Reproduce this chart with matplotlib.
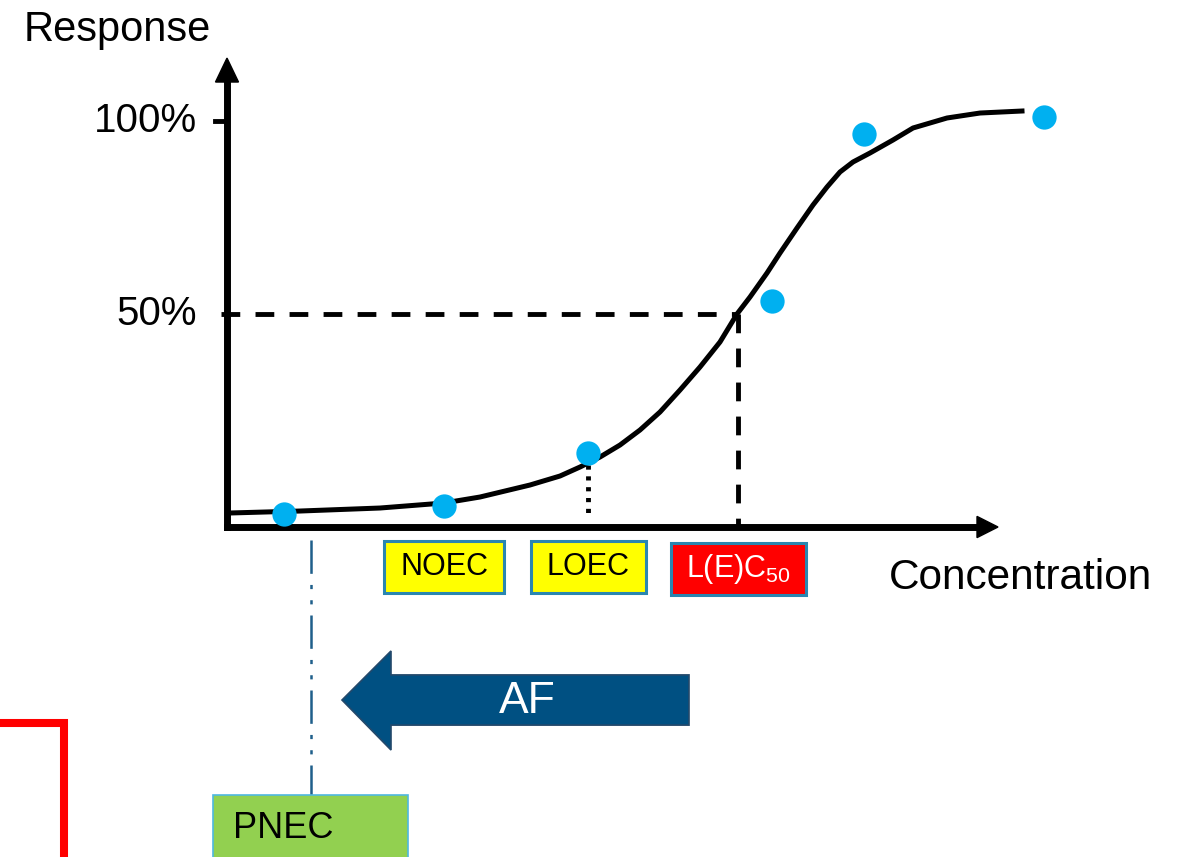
import numpy as np
import matplotlib.pyplot as plt
from matplotlib.patches import Rectangle, Polygon

plt.rcParams['font.family'] = ['Liberation Sans', 'DejaVu Sans']
plt.rcParams['mathtext.fontset'] = 'custom'
plt.rcParams['mathtext.rm'] = 'Liberation Sans'
plt.rcParams['mathtext.it'] = 'Liberation Sans:italic'
plt.rcParams['lines.scale_dashes'] = False

# measured test results (concentration in arbitrary units, response in %)
conc = [0.57, 2.17, 3.61, 5.45, 6.37, 8.17]
response = [-1.8, 0.3, 14.0, 53.4, 96.6, 101.0]

# fitted dose-response curve
curve_x = [0.03, 0.73, 1.53, 2.17, 2.53, 3.03, 3.33, 3.53, 3.73, 3.93, 4.13, 4.33,
           4.53, 4.73, 4.93, 5.10, 5.23, 5.40, 5.53, 5.70, 5.86, 6.00, 6.13, 6.26,
           6.43, 6.66, 6.86, 7.20, 7.53, 7.95]
curve_y = [-1.55, -1.04, -0.26, 1.04, 2.59, 5.70, 8.03, 10.36, 12.95, 16.06, 19.95, 24.61,
           30.31, 36.27, 42.75, 50.0, 54.40, 60.62, 65.80, 72.28, 78.24, 82.90, 86.79, 89.38,
           91.71, 95.08, 98.19, 100.78, 102.07, 102.59]

ec50 = 5.11
loec_resp = 10.9
pnec = 0.84

fig = plt.figure(figsize=(11.78, 8.57), dpi=100, facecolor='white')
ax = fig.add_axes([0, 0, 1, 1])
ax.set_xlim(-2.27, 9.51)
ax.set_ylim(-90.67, 131.35)
ax.axis('off')

y0 = -5.18  # position of concentration axis

# axes with arrow heads
ax.plot([0, 0], [y0, 110.5], color='black', lw=5, solid_capstyle='projecting')
ax.fill([-0.115, 0.115, 0], [110.1, 110.1, 116.3], color='black')
ax.plot([0, 7.52], [y0, y0], color='black', lw=5, solid_capstyle='projecting')
ax.fill([7.50, 7.50, 7.71], [y0 + 2.75, y0 - 2.75, y0], color='black')

# 100% tick
ax.plot([-0.12, 0], [100, 100], color='black', lw=3.5)
ax.text(-0.30, 100, '100%', ha='right', va='center', fontsize=29)
ax.text(-0.30, 50, '50%', ha='right', va='center', fontsize=29)
ax.text(-1.10, 123.6, 'Response', ha='center', va='center', fontsize=30)
ax.text(7.93, -18.4, 'Concentration', ha='center', va='center', fontsize=30.5)

# 50% guide lines
ax.plot([-0.06, ec50], [50, 50], color='black', lw=3.5, dashes=(13.5, 11), dash_capstyle='butt')
ax.plot([ec50, ec50], [50, y0], color='black', lw=3.5, dashes=(13.5, 11), dash_capstyle='butt')
# LOEC dotted line
ax.plot([conc[2], conc[2]], [loec_resp, -2.6], color='black', lw=3.5, dashes=(3, 4.8), dash_capstyle='butt')

# curve and points
ax.plot(curve_x, curve_y, color='black', lw=3.6, solid_joinstyle='round', zorder=3)
ax.plot(conc, response, 'o', color='#00B0F0', ms=17.5, mec='none', zorder=4)

# endpoint labels
boxes = [
    ('NOEC', conc[1], 1.20, -15.5, '#FFFF00', 'black'),
    ('LOEC', conc[2], 1.15, -15.5, '#FFFF00', 'black'),
    ('L(E)C$\\mathregular{_{50}}$', ec50, 1.35, -16.1, '#FF0000', 'white'),
]
for label, cx, w, cy, fc, tc in boxes:
    ax.add_patch(Rectangle((cx - w / 2, cy - 6.7), w, 13.4, facecolor=fc,
                           edgecolor='#2A86B0', lw=2.2, zorder=2))
    ax.text(cx, cy, label, ha='center', va='center', fontsize=22, color=tc, zorder=3)

# PNEC line and box
ax.plot([pnec, pnec], [-8.55, -74.6], color='#1F5F8B', lw=1.8,
        dashes=(24, 8, 3, 8, 3, 8), dash_capstyle='butt')
ax.add_patch(Rectangle((-0.14, -100), 1.95, 25.4, facecolor='#92D050',
                       edgecolor='#4FB8E0', lw=1.2, zorder=2))
ax.text(0.06, -83.2, 'PNEC', ha='left', va='center', fontsize=26, zorder=3)

# AF arrow
af = Polygon([[1.15, -50.0], [1.64, -37.3], [1.64, -43.5], [4.62, -43.5],
              [4.62, -56.5], [1.64, -56.5], [1.64, -62.95]],
             closed=True, facecolor='#005082', edgecolor='#24496B', lw=1.2)
ax.add_patch(af)
ax.text(3.0, -50.3, 'AF', ha='center', va='center', fontsize=32, color='white')

# red frame corner
ax.plot([-2.4, -1.63, -1.63], [-55.96, -55.96, -95], color='#FF0000', lw=5.8,
        solid_joinstyle='miter')

fig.savefig('out.png', dpi=100, facecolor='white')
